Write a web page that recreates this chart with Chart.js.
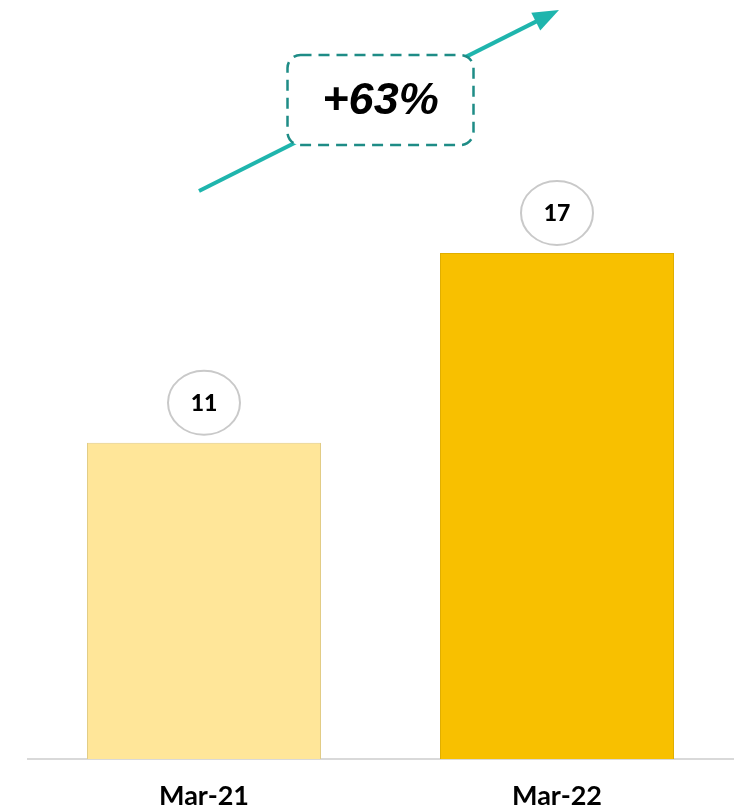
<!DOCTYPE html>
<html>
<head>
<meta charset="utf-8">
<script src="https://cdn.jsdelivr.net/npm/chart.js@4.4.0/dist/chart.umd.min.js"></script>
<style>
  html, body { margin: 0; padding: 0; background: #fff; }
  #wrap { width: 743px; height: 808px; }
</style>
</head>
<body>
<div id="wrap"><canvas id="growthChart"></canvas></div>
<script>
const periods = ['Mar-21', 'Mar-22'];
const counts = [11, 17];
const barColors = ['#FFE699', '#F8C000'];
const barEdges = ['#E2CC86', '#E0AE00'];
const growthLabel = '+63%';

// circles with the value over each bar
const valueBubbles = {
  id: 'valueBubbles',
  afterDatasetsDraw(chart) {
    const c = chart.ctx;
    chart.getDatasetMeta(0).data.forEach((bar, i) => {
      const cx = bar.x, cy = bar.y - 40;
      c.save();
      c.beginPath();
      c.ellipse(cx, cy, 36, 32, 0, 0, Math.PI * 2);
      c.fillStyle = '#fff';
      c.fill();
      c.lineWidth = 2;
      c.strokeStyle = '#C9C9C9';
      c.stroke();
      c.fillStyle = '#000';
      c.font = '900 23px Lato, "Open Sans", sans-serif';
      c.textAlign = 'center';
      c.textBaseline = 'middle';
      c.fillText(counts[i], cx, cy + 1);
      c.restore();
    });
  }
};

// growth arrow + dashed callout
const growthCallout = {
  id: 'growthCallout',
  afterDraw(chart) {
    const c = chart.ctx;
    const xs = chart.scales.x;
    const x0 = xs.getPixelForValue(0), x1 = xs.getPixelForValue(1);
    const mid = (x0 + x1) / 2;
    const sx = x0 - 5, sy = 191, ex = x1 + 2, ey = 10;
    const bw = 186, bh = 90, bx = mid - bw / 2, by = 55;

    c.save();
    // arrow line
    c.strokeStyle = '#1FB5AD';
    c.lineWidth = 4;
    c.beginPath();
    c.moveTo(sx, sy);
    const ang = Math.atan2(ey - sy, ex - sx);
    const hl = 26;
    c.lineTo(ex - hl * 0.8 * Math.cos(ang), ey - hl * 0.8 * Math.sin(ang));
    c.stroke();
    // arrow head
    c.fillStyle = '#1FB5AD';
    c.beginPath();
    c.moveTo(ex, ey);
    c.lineTo(ex - hl * Math.cos(ang) + 10 * Math.sin(ang), ey - hl * Math.sin(ang) - 10 * Math.cos(ang));
    c.lineTo(ex - hl * Math.cos(ang) - 10 * Math.sin(ang), ey - hl * Math.sin(ang) + 10 * Math.cos(ang));
    c.closePath();
    c.fill();

    // callout box
    c.beginPath();
    c.roundRect(bx, by, bw, bh, 13);
    c.fillStyle = '#fff';
    c.fill();
    c.setLineDash([11, 7]);
    c.lineWidth = 2.5;
    c.strokeStyle = '#1E8C86';
    c.stroke();
    c.setLineDash([]);

    c.fillStyle = '#000';
    c.font = 'italic bold 45px "Liberation Sans", Arial, sans-serif';
    c.textAlign = 'center';
    c.textBaseline = 'middle';
    c.fillText(growthLabel, mid, by + bh / 2 + 2);
    c.restore();
  }
};

new Chart(document.getElementById('growthChart'), {
  type: 'bar',
  data: {
    labels: periods,
    datasets: [{
      data: counts,
      backgroundColor: barColors,
      borderColor: barEdges,
      borderWidth: 1,
      categoryPercentage: 1,
      barPercentage: 0.663
    }]
  },
  options: {
    responsive: true,
    maintainAspectRatio: false,
    animation: false,
    layout: { padding: { left: 27.5, right: 9.5, top: 0, bottom: 0 } },
    plugins: { legend: { display: false }, tooltip: { enabled: false } },
    scales: {
      x: {
        afterFit(scale) { scale.height = 49; },
        grid: { display: false, drawTicks: false },
        border: { display: true, color: '#D9D9D9', width: 2 },
        ticks: {
          color: '#000',
          padding: 21,
          font: { family: 'Lato, "Open Sans", sans-serif', size: 27, weight: 'bold' }
        }
      },
      y: { display: false, min: 1, max: 25 }
    }
  },
  plugins: [valueBubbles, growthCallout]
});
</script>
</body>
</html>
